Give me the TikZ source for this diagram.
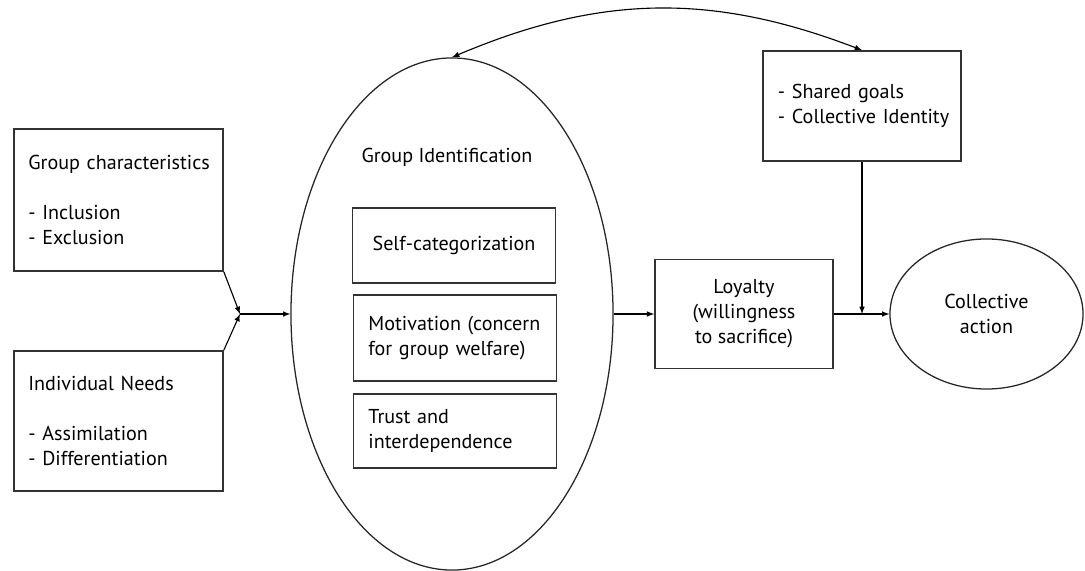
\documentclass[tikz,border=0pt]{standalone}
\usepackage{fontspec}
\setmainfont{PT Sans}
\usepackage{tikz}
\usetikzlibrary{shapes.geometric,arrows,calc,positioning}

\begin{document}
\begin{tikzpicture}[x=0.025cm, y=0.025cm, >=latex, line width=0.8pt,
    every node/.style={font=\fontsize{14.3}{17.8}\selectfont},
    box/.style={rectangle, draw=black!80, line width=1.1pt, inner sep=0pt},
    listbox/.style={box, align=left, inner xsep=0.36cm},
    oval/.style={ellipse, draw=black!85, line width=0.9pt, inner sep=0pt}]
   \useasboundingbox (0,0) rectangle (1085,571);

   % left inputs
   \node (gchar) [listbox, text width=4.505cm, minimum height=3.55cm] at (118.5,371)
      {\mbox{Group characteristics}\\[17.8pt]- Inclusion\\- Exclusion};
   \node (indiv) [listbox, text width=4.505cm, minimum height=3.5cm] at (118.5,150)
      {Individual Needs\\[17.8pt]- Assimilation\\- Differentiation};
   \coordinate (junction) at (240,257);

   % group identification
   \node (groupid) [oval, minimum width=8.05cm, minimum height=12.8cm] at (452,257) {};
   \node (gidlabel) at (447,414) {Group Identification};
   \node (selfcat) [box, minimum width=5.075cm, minimum height=1.875cm] at (454,325.5)
      {Self-categorization};
   \node (motiv) [listbox, inner xsep=0.375cm, text width=4.325cm, minimum height=2.15cm] at (455,233)
      {\mbox{Motivation (concern}\\for group welfare)};
   \node (trust) [listbox, inner xsep=0.375cm, text width=4.325cm, minimum height=1.85cm] at (455,140)
      {Trust and\\interdependence};

   % outcomes
   \node (loyalty) [box, align=center, minimum width=4.45cm, minimum height=2.725cm] at (744,257)
      {Loyalty\\(willingness\\to sacrifice)};
   \node (collective) [oval, align=center, minimum width=4.825cm, minimum height=3.75cm] at (986.5,257)
      {Collective\\action};
   \node (shared) [listbox, inner xsep=0.375cm, text width=4.2cm, minimum height=2.75cm] at (862,465)
      {- Shared goals\\\mbox{- Collective Identity}};

   \begin{scope}[draw=black]
    \draw[->] (gchar.south east) -- (junction);
    \draw[->] (indiv.north east) -- (junction);
    \draw[->] (junction) -- (groupid.west);
    \draw[->] (groupid.east) -- (loyalty.west);
    \draw[->] (loyalty.east) -- (collective.west);
    \draw[->] (shared.south) -- (shared.south |- collective.west);
    \draw[<->] (groupid.north) to[bend left=22] (shared.north);
   \end{scope}
\end{tikzpicture}
\end{document}
